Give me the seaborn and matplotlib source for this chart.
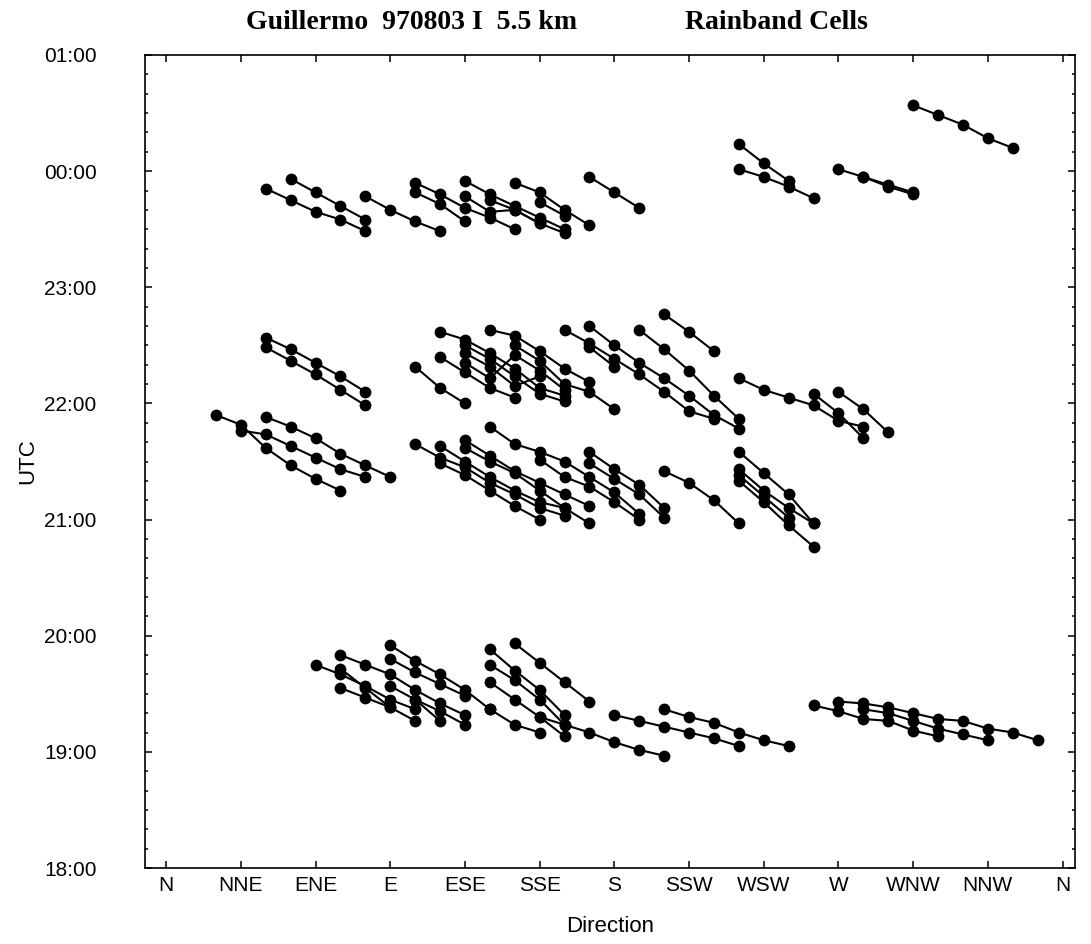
import matplotlib
matplotlib.use("Agg")
import matplotlib.pyplot as plt
from matplotlib.ticker import MultipleLocator
import pandas as pd
import seaborn as sns

# Direction axis (degrees) and its labels
dir_ticks = [0, 30, 60, 90, 120, 150, 180, 210, 240, 270, 300, 330, 360]
dir_labels = ["N", "NNE", "ENE", "E", "ESE", "SSE", "S", "SSW", "WSW", "W", "WNW", "NNW", "N"]

# Time axis (hours, past midnight counted as 24+)
utc_ticks = [18, 19, 20, 21, 22, 23, 24, 25]
utc_labels = ["18:00", "19:00", "20:00", "21:00", "22:00", "23:00", "00:00", "01:00"]

# Cell tracks: (direction in degrees, UTC time)
tracks_0000 = [
    [(40, "23:51"), (50, "23:45"), (60, "23:39"), (70, "23:35"), (80, "23:29")],
    [(50, "23:56"), (60, "23:49"), (70, "23:42"), (80, "23:35")],
    [(80, "23:47"), (90, "23:40"), (100, "23:34"), (110, "23:29")],
    [(100, "23:54"), (110, "23:48"), (120, "23:41"), (130, "23:36"), (140, "23:30")],
    [(100, "23:49"), (110, "23:43"), (120, "23:34")],
    [(120, "23:55"), (130, "23:48"), (140, "23:42"), (150, "23:36"), (160, "23:30")],
    [(120, "23:47"), (130, "23:39"), (140, "23:40"), (150, "23:33"), (160, "23:28")],
    [(130, "23:45"), (140, "23:40"), (150, "23:33")],
    [(140, "23:54"), (150, "23:49"), (160, "23:40"), (170, "23:32")],
    [(150, "23:44"), (160, "23:37")],
    [(170, "23:57"), (180, "23:49"), (190, "23:41")],
    [(230, "00:14"), (240, "00:04"), (250, "23:55")],
    [(230, "00:01"), (240, "23:57"), (250, "23:52"), (260, "23:46")],
    [(270, "00:01"), (280, "23:57"), (290, "23:53"), (300, "23:49")],
    [(280, "23:57"), (290, "23:52"), (300, "23:48")],
    [(300, "00:34"), (310, "00:29"), (320, "00:24"), (330, "00:17"), (340, "00:12")],
]

tracks_2200 = [
    [(40, "22:34"), (50, "22:28"), (60, "22:21"), (70, "22:14"), (80, "22:06")],
    [(40, "22:29"), (50, "22:22"), (60, "22:15"), (70, "22:07"), (80, "21:59")],
    [(100, "22:19"), (110, "22:08"), (120, "22:00")],
    [(110, "22:37"), (120, "22:33"), (130, "22:26"), (140, "22:18"), (150, "22:08"), (160, "22:04")],
    [(110, "22:24"), (120, "22:16"), (130, "22:08"), (140, "22:03")],
    [(120, "22:30"), (130, "22:23"), (140, "22:14"), (150, "22:05"), (160, "22:01")],
    [(120, "22:26"), (130, "22:19"), (140, "22:09"), (150, "22:14")],
    [(130, "22:38"), (140, "22:35"), (150, "22:27"), (160, "22:18"), (170, "22:11")],
    [(140, "22:30"), (150, "22:22"), (160, "22:10"), (170, "22:06"), (180, "21:57")],
    [(120, "22:21"), (130, "22:13"), (140, "22:25"), (150, "22:17"), (160, "22:07")],
    [(160, "22:38"), (170, "22:31"), (180, "22:23"), (190, "22:15"), (200, "22:06"), (210, "21:56"), (220, "21:52")],
    [(170, "22:29"), (180, "22:19")],
    [(170, "22:40"), (180, "22:30"), (190, "22:21"), (200, "22:13"), (210, "22:04"), (220, "21:54"), (230, "21:47")],
    [(190, "22:38"), (200, "22:28"), (210, "22:17"), (220, "22:04"), (230, "21:52")],
    [(200, "22:46"), (210, "22:37"), (220, "22:27")],
    [(230, "22:13"), (240, "22:07"), (250, "22:03"), (260, "21:59"), (270, "21:51"), (280, "21:48")],
    [(260, "22:05"), (270, "21:55"), (280, "21:42")],
    [(270, "22:06"), (280, "21:57"), (290, "21:45")],
]

tracks_2130 = [
    [(20, "21:54"), (30, "21:49"), (40, "21:37"), (50, "21:28"), (60, "21:21"), (70, "21:15")],
    [(30, "21:46"), (40, "21:44"), (50, "21:38"), (60, "21:32"), (70, "21:26"), (80, "21:22")],
    [(40, "21:53"), (50, "21:48"), (60, "21:42"), (70, "21:34"), (80, "21:28"), (90, "21:22")],
    [(100, "21:39"), (110, "21:32"), (120, "21:27"), (130, "21:19"), (140, "21:13"), (150, "21:06"), (160, "21:02")],
    [(110, "21:38"), (120, "21:30"), (130, "21:22"), (140, "21:15"), (150, "21:09"), (160, "21:06"), (170, "20:58")],
    [(110, "21:29"), (120, "21:23"), (130, "21:15"), (140, "21:07"), (150, "21:00")],
    [(120, "21:41"), (130, "21:33"), (140, "21:25"), (150, "21:19"), (160, "21:13"), (170, "21:07")],
    [(120, "21:37"), (130, "21:30"), (140, "21:24"), (150, "21:15"), (160, "21:06")],
    [(130, "21:48"), (140, "21:39"), (150, "21:35"), (160, "21:30"), (170, "21:22"), (180, "21:14"), (190, "21:03")],
    [(150, "21:31"), (160, "21:22"), (170, "21:17"), (180, "21:09"), (190, "21:00")],
    [(170, "21:35"), (180, "21:26"), (190, "21:18"), (200, "21:06")],
    [(170, "21:29"), (180, "21:21"), (190, "21:13"), (200, "21:01")],
    [(200, "21:25"), (210, "21:19"), (220, "21:10"), (230, "20:58")],
    [(230, "21:35"), (240, "21:24"), (250, "21:13"), (260, "20:58")],
    [(230, "21:26"), (240, "21:15"), (250, "21:06"), (260, "20:58")],
    [(230, "21:23"), (240, "21:12"), (250, "21:01")],
    [(230, "21:20"), (240, "21:09"), (250, "20:57"), (260, "20:46")],
]

tracks_1930 = [
    [(60, "19:45"), (70, "19:40"), (80, "19:34"), (90, "19:27"), (100, "19:22")],
    [(70, "19:50"), (80, "19:45"), (90, "19:40"), (100, "19:32"), (110, "19:25"), (120, "19:19")],
    [(70, "19:43"), (80, "19:33"), (90, "19:23"), (100, "19:16")],
    [(70, "19:33"), (80, "19:28"), (90, "19:23")],
    [(90, "19:55"), (100, "19:47"), (110, "19:40"), (120, "19:32"), (130, "19:22")],
    [(90, "19:48"), (100, "19:41"), (110, "19:35"), (120, "19:29")],
    [(90, "19:34"), (100, "19:27"), (110, "19:21"), (120, "19:14")],
    [(100, "19:27"), (110, "19:16")],
    [(130, "19:53"), (140, "19:42"), (150, "19:32"), (160, "19:19")],
    [(130, "19:45"), (140, "19:37"), (150, "19:27"), (160, "19:14")],
    [(130, "19:36"), (140, "19:27"), (150, "19:18"), (160, "19:08")],
    [(140, "19:56"), (150, "19:46"), (160, "19:36"), (170, "19:26")],
    [(130, "19:22"), (140, "19:14"), (150, "19:10")],
    [(150, "19:18"), (160, "19:14"), (170, "19:10"), (180, "19:05"), (190, "19:01"), (200, "18:58")],
    [(180, "19:19"), (190, "19:16"), (200, "19:13"), (210, "19:10"), (220, "19:07"), (230, "19:03")],
    [(200, "19:22"), (210, "19:18"), (220, "19:15"), (230, "19:10"), (240, "19:06"), (250, "19:03")],
    [(260, "19:24"), (270, "19:21"), (280, "19:17"), (290, "19:16"), (300, "19:11"), (310, "19:08")],
    [(270, "19:26"), (280, "19:25"), (290, "19:23"), (300, "19:20"), (310, "19:17"),
     (320, "19:16"), (330, "19:12"), (340, "19:10"), (350, "19:06")],
    [(280, "19:22"), (290, "19:20"), (300, "19:16"), (310, "19:12"), (320, "19:09"), (330, "19:06")],
]


def to_hours(hhmm):
    h, m = (int(v) for v in hhmm.split(":"))
    if h < 12:
        h += 24
    return h + m / 60.0


rows = []
cell = 0
for group in (tracks_0000, tracks_2200, tracks_2130, tracks_1930):
    for track in group:
        for order, (d, t) in enumerate(track):
            rows.append({"cell": cell, "order": order, "direction": d, "utc": to_hours(t)})
        cell += 1
df = pd.DataFrame(rows)

sns.set_style("ticks")
plt.rcParams["font.family"] = ["Liberation Sans", "DejaVu Sans"]
plt.rcParams["text.color"] = "black"
plt.rcParams["axes.labelcolor"] = "black"
plt.rcParams["xtick.color"] = "black"
plt.rcParams["ytick.color"] = "black"

fig = plt.figure(figsize=(10.91, 9.44), dpi=100)
ax = fig.add_axes([145 / 1091, 1 - 868 / 944, 930 / 1091, 813 / 944])

sns.lineplot(
    data=df, x="direction", y="utc", units="cell", estimator=None, sort=False,
    color="black", marker="o", markersize=8.5, markeredgewidth=0,
    linewidth=1.5, legend=False, ax=ax,
)

ax.set_xlim(-8.5, 365)
ax.set_ylim(18, 25)
ax.set_xticks(dir_ticks)
ax.set_xticklabels(dir_labels)
ax.set_yticks(utc_ticks)
ax.set_yticklabels(utc_labels)
ax.yaxis.set_minor_locator(MultipleLocator(1 / 6))
ax.tick_params(which="both", direction="in", top=True, right=True, width=1.1)
ax.tick_params(which="major", length=5, labelsize=15)
ax.tick_params(which="minor", length=2.5)
ax.tick_params(axis="y", which="major", pad=35)
ax.tick_params(axis="x", which="major", pad=6)
for s in ax.spines.values():
    s.set_linewidth(1.2)
    s.set_color("black")

ax.set_xlabel("Direction", fontsize=16, labelpad=15)
ax.set_ylabel("UTC", fontsize=16, labelpad=4)

# Title in bold serif: case identifier on the left, product name on the right
title_kw = dict(family="Liberation Serif", weight="bold", fontsize=20, va="center")
fig.text(246 / 1091, 0.976, "Guillermo  970803 I  5.5 km", ha="left", **title_kw)
fig.text(868 / 1091, 0.976, "Rainband Cells", ha="right", **title_kw)

fig.savefig("out.png", dpi=100)
